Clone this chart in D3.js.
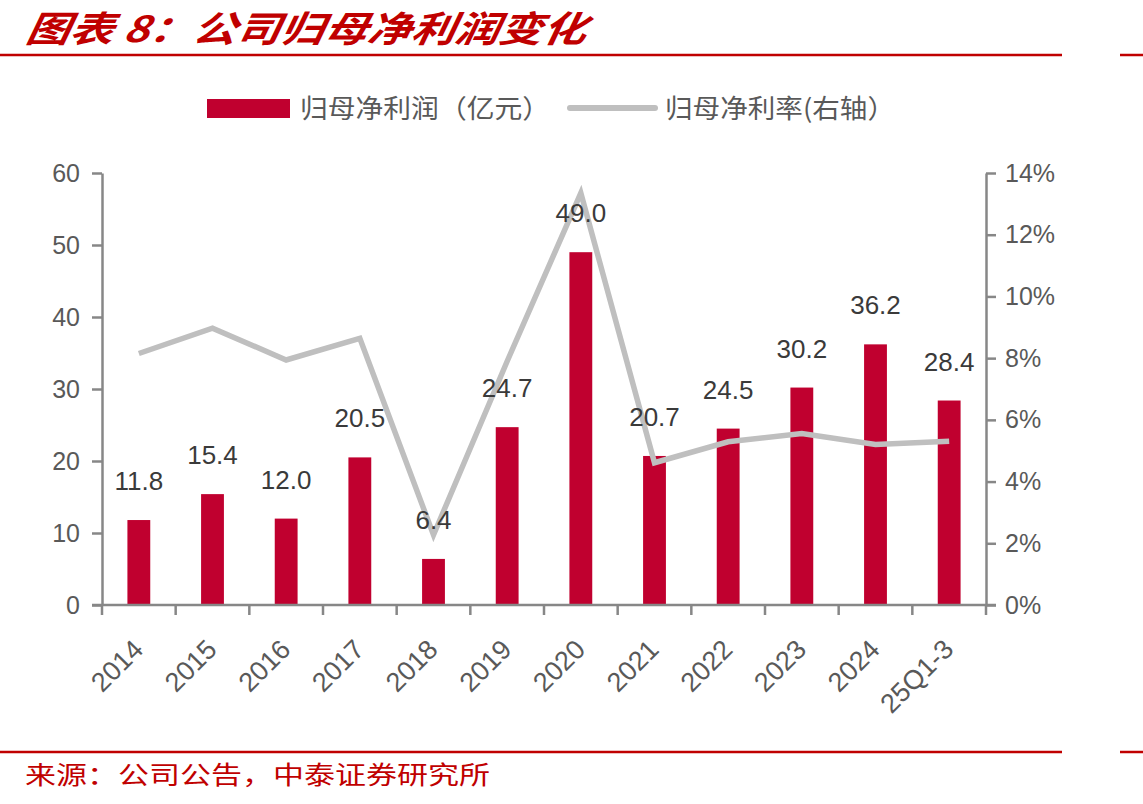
<!DOCTYPE html>
<html>
<head>
<meta charset="utf-8">
<script src="https://cdn.jsdelivr.net/npm/d3@7"></script>
<style>
  body { margin: 0; background: #fff; }
  svg { display: block; }
  text { font-family: "Liberation Sans", Arial, "Noto Sans CJK SC", sans-serif; }
  .cjk { font-family: "Noto Sans CJK SC", sans-serif; }
</style>
</head>
<body>
<svg id="chart" width="1143" height="804"></svg>
<script>
// data
const categories = ["2014", "2015", "2016", "2017", "2018", "2019", "2020", "2021", "2022", "2023", "2024", "25Q1-3"];
const netProfit = [11.8, 15.4, 12.0, 20.5, 6.4, 24.7, 49.0, 20.7, 24.5, 30.2, 36.2, 28.4];
const netMargin = [8.15, 8.97, 7.94, 8.64, 2.27, 7.9, 13.35, 4.61, 5.29, 5.56, 5.2, 5.31];
const leftTicks = [0, 10, 20, 30, 40, 50, 60];
const rightTicks = [0, 2, 4, 6, 8, 10, 12, 14];

(function () {
  const svg = d3.select("#chart");
  const red = "#C0002F";
  const gray = "#BFBFBF";
  const axisColor = "#878787";
  const labelColor = "#595959";

  const left = 102, right = 986, top = 173, bottom = 605;

  const x = d3.scaleBand().domain(categories).range([left, right]).paddingInner(0.69).paddingOuter(0.345);
  const yL = d3.scaleLinear().domain([0, 60]).range([bottom, top]);
  const yR = d3.scaleLinear().domain([0, 14]).range([bottom, top]);
  const cx = (c) => x(c) + x.bandwidth() / 2;

  // title
  svg.append("text")
    .attr("class", "cjk")
    .attr("x", 25).attr("y", 42)
    .attr("textLength", 560).attr("lengthAdjust", "spacingAndGlyphs")
    .attr("fill", "#C00000")
    .attr("font-size", 36).attr("font-weight", "bold").attr("font-style", "italic")
    .attr("transform", "skewX(-10) translate(7,0)")
    .text("图表 8：公司归母净利润变化");

  // header and footer rules
  [55, 752].forEach((yy) => {
    svg.append("line").attr("x1", 0).attr("x2", 1062).attr("y1", yy).attr("y2", yy)
      .attr("stroke", "#C00000").attr("stroke-width", 2.5);
    svg.append("line").attr("x1", 1120).attr("x2", 1143).attr("y1", yy).attr("y2", yy)
      .attr("stroke", "#C00000").attr("stroke-width", 2.5);
  });

  // footer
  svg.append("text")
    .attr("class", "cjk")
    .attr("x", 25).attr("y", 784)
    .attr("textLength", 465).attr("lengthAdjust", "spacingAndGlyphs")
    .attr("fill", "#C00000").attr("font-size", 25)
    .text("来源：公司公告，中泰证券研究所");

  // legend
  const lg = svg.append("g");
  lg.append("rect").attr("x", 207).attr("y", 99).attr("width", 83).attr("height", 19).attr("fill", red);
  lg.append("text").attr("class", "cjk").attr("x", 300).attr("y", 118)
    .attr("font-size", 26).attr("fill", labelColor)
    .attr("textLength", 250).attr("lengthAdjust", "spacingAndGlyphs")
    .text("归母净利润（亿元）");
  lg.append("line").attr("x1", 570).attr("x2", 655).attr("y1", 108).attr("y2", 108)
    .attr("stroke", gray).attr("stroke-width", 6).attr("stroke-linecap", "round");
  lg.append("text").attr("class", "cjk").attr("x", 665).attr("y", 118)
    .attr("font-size", 26).attr("fill", labelColor)
    .attr("textLength", 230).attr("lengthAdjust", "spacingAndGlyphs")
    .text("归母净利率(右轴）");

  // bars
  svg.append("g").selectAll("rect")
    .data(categories)
    .enter()
    .append("rect")
    .attr("x", (d) => x(d))
    .attr("width", x.bandwidth())
    .attr("y", (d, i) => yL(netProfit[i]))
    .attr("height", (d, i) => bottom - yL(netProfit[i]))
    .attr("fill", red);

  // axes
  const styleAxis = (g) => {
    g.select(".domain").attr("stroke", axisColor).attr("stroke-width", 2.5);
    g.selectAll(".tick line").attr("stroke", axisColor).attr("stroke-width", 2.5);
    g.selectAll(".tick text").attr("fill", labelColor).attr("font-size", 25)
      .attr("font-family", "'Liberation Sans', Arial, sans-serif");
  };

  svg.append("g")
    .attr("transform", `translate(${left},0)`)
    .call(d3.axisLeft(yL).tickValues(leftTicks).tickSize(10).tickSizeOuter(0).tickPadding(12))
    .call(styleAxis);

  svg.append("g")
    .attr("transform", `translate(${right},0)`)
    .call(d3.axisRight(yR).tickValues(rightTicks).tickSize(10).tickSizeOuter(0).tickPadding(9)
      .tickFormat((d) => d + "%"))
    .call(styleAxis);

  // category axis
  const xg = svg.append("g");
  xg.append("line").attr("x1", left - 10).attr("x2", right + 10).attr("y1", bottom).attr("y2", bottom)
    .attr("stroke", axisColor).attr("stroke-width", 2.5);
  const bounds = categories.map((c) => cx(c) - x.step() / 2).concat([right]);
  xg.selectAll("line.t")
    .data(bounds)
    .enter()
    .append("line")
    .attr("class", "t")
    .attr("x1", (d) => d).attr("x2", (d) => d)
    .attr("y1", bottom).attr("y2", bottom + 10)
    .attr("stroke", axisColor).attr("stroke-width", 2.5);
  xg.selectAll("text")
    .data(categories)
    .enter()
    .append("text")
    .attr("transform", (d) => `translate(${cx(d) + 6},${bottom + 46}) rotate(-45)`)
    .attr("text-anchor", "end")
    .attr("font-size", 27)
    .attr("fill", labelColor)
    .text((d) => d);

  // margin line
  const line = d3.line()
    .x((d, i) => cx(categories[i]))
    .y((d) => yR(d));
  svg.append("path")
    .datum(netMargin)
    .attr("d", line)
    .attr("fill", "none")
    .attr("stroke", gray)
    .attr("stroke-width", 5.5)
    .attr("stroke-linejoin", "miter");

  // value labels
  svg.append("g").selectAll("text")
    .data(categories)
    .enter()
    .append("text")
    .attr("x", (d) => cx(d))
    .attr("y", (d, i) => yL(netProfit[i]) - 30)
    .attr("text-anchor", "middle")
    .attr("font-size", 26)
    .attr("fill", "#3a3a3a")
    .text((d, i) => netProfit[i].toFixed(1));
})();
</script>
</body>
</html>
